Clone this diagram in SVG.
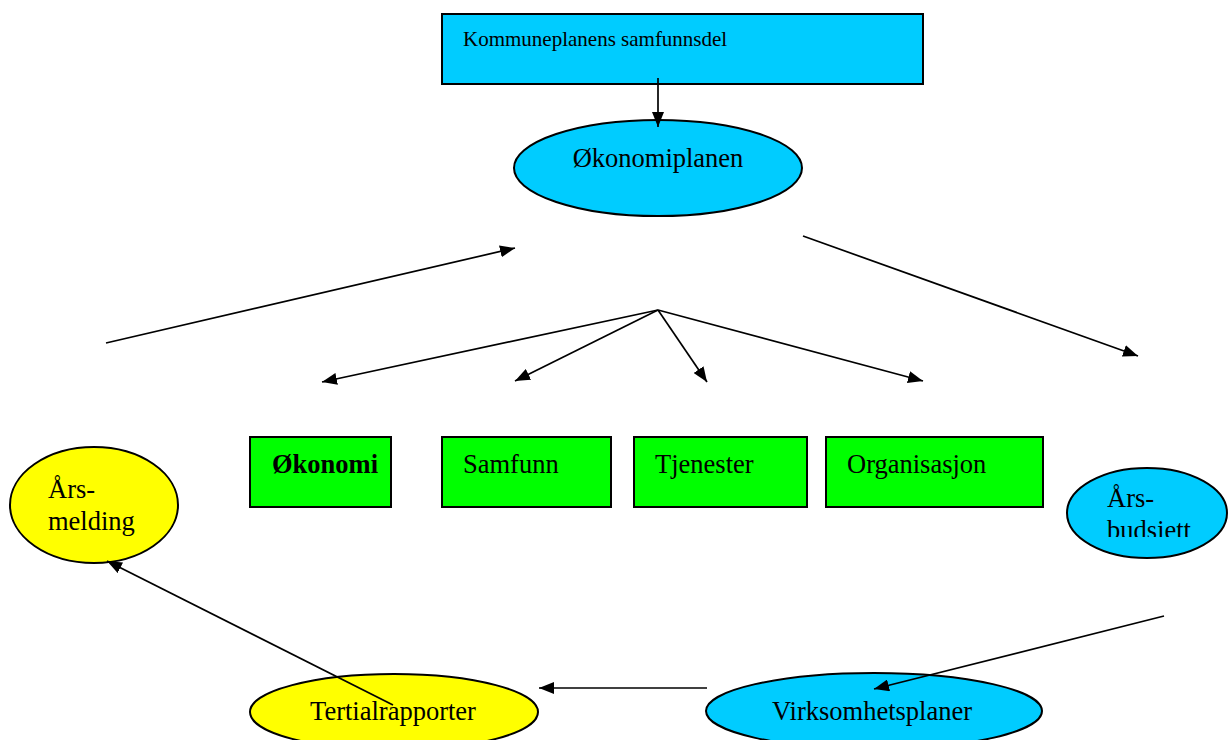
<svg xmlns="http://www.w3.org/2000/svg" width="1228" height="740" viewBox="0 0 1228 740">
<style>
text{font-family:"Liberation Serif","Times New Roman",serif;fill:#000}
.cyan{fill:#00CCFF;stroke:#000;stroke-width:2}
.yel{fill:#FFFF00;stroke:#000;stroke-width:2}
.grn{fill:#00FF00;stroke:#000;stroke-width:2}
.c line{stroke:#000;stroke-width:1.7;marker-end:url(#ah)}
.t{font-size:26.5px}
</style>
<defs>
<marker id="ah" viewBox="0 0 15 12" refX="15" refY="6" markerWidth="15" markerHeight="12" markerUnits="userSpaceOnUse" orient="auto"><path d="M0,0L15,6L0,12z" fill="#000"/></marker>
<clipPath id="bc"><rect x="1060" y="460" width="168" height="77"/></clipPath>
</defs>
<g id="kommuneplan"><rect class="cyan" x="442" y="14" width="481" height="70"/><text x="463" y="46" font-size="21">Kommuneplanens samfunnsdel</text></g>
<g id="okonomiplanen"><ellipse class="cyan" cx="658" cy="168" rx="144" ry="48"/><text class="t" x="658" y="167" text-anchor="middle">Økonomiplanen</text></g>
<g id="okonomi"><rect class="grn" x="250" y="437" width="141" height="70"/><text class="t" x="272" y="473" font-weight="bold">Økonomi</text></g>
<g id="samfunn"><rect class="grn" x="442" y="437" width="169" height="70"/><text class="t" x="463" y="473">Samfunn</text></g>
<g id="tjenester"><rect class="grn" x="634" y="437" width="173" height="70"/><text class="t" x="655" y="473">Tjenester</text></g>
<g id="organisasjon"><rect class="grn" x="826" y="437" width="217" height="70"/><text class="t" x="847" y="473">Organisasjon</text></g>
<g id="arsmelding"><ellipse class="yel" cx="94" cy="505" rx="84" ry="58"/><text class="t" x="48" y="498">Års-</text><text class="t" x="48" y="530">melding</text></g>
<g id="arsbudsjett"><ellipse class="cyan" cx="1147" cy="513" rx="80" ry="45"/><g clip-path="url(#bc)"><text class="t" x="1107" y="507">Års-</text><text class="t" x="1107" y="539">budsjett</text></g></g>
<g id="tertialrapporter"><ellipse class="yel" cx="394" cy="712" rx="144" ry="38"/><text class="t" x="393" y="720" text-anchor="middle">Tertialrapporter</text></g>
<g id="virksomhetsplaner"><ellipse class="cyan" cx="874" cy="711" rx="168" ry="38"/><text class="t" x="872" y="720" text-anchor="middle">Virksomhetsplaner</text></g>
<g id="connectors" class="c">
<line x1="658" y1="78" x2="658" y2="127"/>
<line x1="106" y1="343" x2="515" y2="248"/>
<line x1="803" y1="236" x2="1138" y2="356"/>
<line x1="658" y1="310" x2="322" y2="382"/>
<line x1="658" y1="310" x2="515" y2="381"/>
<line x1="658" y1="310" x2="707" y2="382"/>
<line x1="658" y1="310" x2="923" y2="381"/>
<line x1="393" y1="705" x2="107" y2="561"/>
<line x1="707" y1="688" x2="539" y2="688"/>
<line x1="1164" y1="616" x2="874" y2="689"/>
</g>
</svg>
